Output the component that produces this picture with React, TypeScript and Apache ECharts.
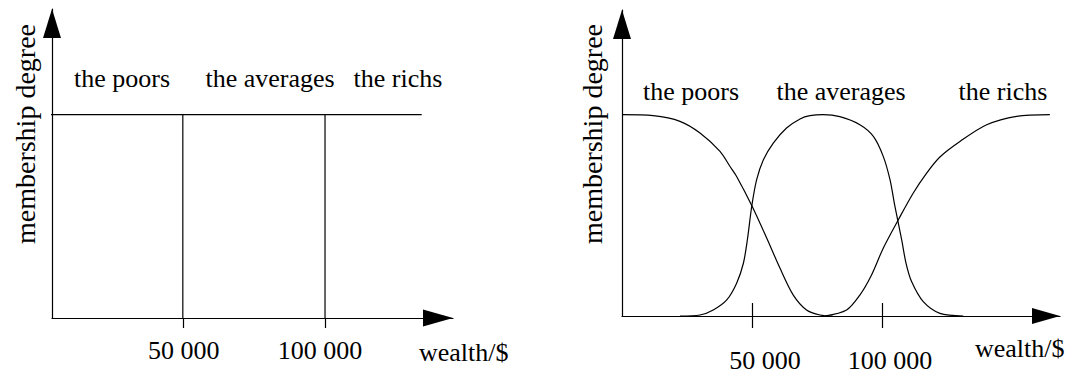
import React, { useEffect, useRef } from "react";
import * as echarts from "echarts";

// ---- texts ----
const setNames = ["the poors", "the averages", "the richs"];
const tickValues = [50000, 100000];
const tickLabels = ["50 000", "100 000"];
const xAxisName = "wealth/$";
const yAxisName = "membership degree";

// ---- crisp sets (left panel): boundaries in $ ----
const crispBounds = [0, 50000, 100000, 134000];

// ---- fuzzy sets (right panel) ----
const poorsX = [0, 12000, 22300, 30000, 37700, 41500, 44100, 50100, 55700, 60800, 65900, 71000, 76200, 81000];
const poorsY = [1, 0.995, 0.967, 0.909, 0.818, 0.744, 0.693, 0.544, 0.386, 0.237, 0.104, 0.03, 0.005, 0];

const averagesX = [22300, 30000, 35100, 40300, 44100, 46700, 48300, 49900, 51800, 54400, 58200, 63300, 68500, 72300, 77400, 83800, 91500, 96700, 100500, 103100, 105000, 107600, 109300, 111400, 115900, 122300, 131300];
const averagesY = [0, 0.005, 0.03, 0.08, 0.163, 0.262, 0.385, 0.544, 0.677, 0.776, 0.859, 0.934, 0.979, 0.995, 1, 0.99, 0.95, 0.892, 0.793, 0.677, 0.544, 0.378, 0.26, 0.171, 0.071, 0.013, 0];

const richsX = [78000, 86400, 91500, 96000, 100500, 106300, 112000, 117200, 122300, 130000, 140300, 151800, 164600];
const richsY = [0, 0.03, 0.104, 0.204, 0.337, 0.478, 0.61, 0.71, 0.79, 0.867, 0.95, 0.992, 1];

const FONT = "Liberation Serif";
const BLACK = "#000";

const zip = (xs: number[], ys: number[]) => xs.map((x, i) => [x, ys[i]]);

export default function App() {
  const ref = useRef<HTMLDivElement>(null);

  useEffect(() => {
    if (!ref.current) return;
    const chart = echarts.init(ref.current, undefined, { renderer: "svg" });

    const lineStyle = { color: BLACK, width: 1.2 };
    const textBase = { fontFamily: FONT, fontSize: 26, color: BLACK };

    const poorsCrisp = [[crispBounds[0], 1], [crispBounds[1], 1], [crispBounds[1], 0]];
    const averagesCrisp = [[crispBounds[1], 1], [crispBounds[2], 1], [crispBounds[2], 0]];
    const richsCrisp = [[crispBounds[2], 1], [crispBounds[3], 1]];

    const yAxisCommon = (gridIndex: number) => ({
      gridIndex,
      type: "value",
      min: 0,
      max: 1.52,
      axisLine: {
        show: true,
        onZero: false,
        symbol: ["none", "triangle"],
        symbolSize: [18, 29],
        symbolOffset: [0, -14.5],
        lineStyle,
      },
      axisTick: { show: false },
      axisLabel: { show: false },
      splitLine: { show: false },
    });

    const tickAxis = (gridIndex: number, min: number, max: number, length: number, inside: boolean) => ({
      gridIndex,
      type: "value",
      position: "bottom",
      min,
      max,
      axisLine: { show: false, onZero: false },
      axisTick: { show: true, customValues: tickValues, length, inside, lineStyle },
      axisLabel: { show: false },
      splitLine: { show: false },
    });

    const labelAxis = (
      gridIndex: number,
      min: number,
      max: number,
      margin: number,
      arrow: [number, number],
      padA: number[],
      padB: number[]
    ) => ({
      gridIndex,
      type: "value",
      position: "bottom",
      min,
      max,
      axisLine: {
        show: true,
        onZero: false,
        symbol: ["none", "triangle"],
        symbolSize: arrow,
        symbolOffset: [0, -arrow[1] / 2],
        lineStyle,
      },
      axisTick: { show: false },
      axisLabel: {
        show: true,
        customValues: tickValues,
        margin,
        ...textBase,
        formatter: (v: number) => {
          const i = tickValues.indexOf(v);
          return i === 0 ? `{a|${tickLabels[0]}}` : `{b|${tickLabels[1]}}`;
        },
        rich: {
          a: { ...textBase, padding: padA },
          b: { ...textBase, padding: padB },
        },
      },
      splitLine: { show: false },
    });

    const nameText = (text: string, x: number, y: number, extra: any = {}) => ({
      type: "text",
      x,
      y,
      ...extra,
      style: { text, fontFamily: FONT, fontSize: 26, fill: BLACK, align: "center", verticalAlign: "middle", ...(extra.style || {}) },
    });

    const option: any = {
      animation: false,
      backgroundColor: "#fff",
      grid: [
        { left: 52, top: 9, width: 401, height: 309 },
        { left: 622, top: 10, width: 438, height: 306 },
      ],
      xAxis: [
        labelAxis(0, 4000, 145000, 19, [17, 30], [0, 0, 0, 2], [0, 10, 0, 0]),
        tickAxis(0, 4000, 145000, 10, false),
        labelAxis(1, 0, 168500, 31, [16, 28], [0, 0, 0, 26], [0, 0, 0, 16]),
        tickAxis(1, 0, 168500, 12, false),
        tickAxis(1, 0, 168500, 13, true),
      ],
      yAxis: [yAxisCommon(0), yAxisCommon(1)],
      series: [
        { type: "line", xAxisIndex: 0, yAxisIndex: 0, data: poorsCrisp, symbol: "none", lineStyle },
        { type: "line", xAxisIndex: 0, yAxisIndex: 0, data: averagesCrisp, symbol: "none", lineStyle },
        { type: "line", xAxisIndex: 0, yAxisIndex: 0, data: richsCrisp, symbol: "none", lineStyle },
        { type: "line", xAxisIndex: 2, yAxisIndex: 1, data: zip(poorsX, poorsY), symbol: "none", smooth: 0.3, lineStyle, clip: false },
        { type: "line", xAxisIndex: 2, yAxisIndex: 1, data: zip(averagesX, averagesY), symbol: "none", smooth: 0.3, lineStyle, clip: false },
        { type: "line", xAxisIndex: 2, yAxisIndex: 1, data: zip(richsX, richsY), symbol: "none", smooth: 0.3, lineStyle, clip: false },
      ],
      graphic: [
        nameText(setNames[0], 122, 78),
        nameText(setNames[1], 270, 78),
        nameText(setNames[2], 398, 78),
        nameText(setNames[0], 691, 91),
        nameText(setNames[1], 841, 91),
        nameText(setNames[2], 1003, 91),
        nameText(yAxisName, 25, 134, { rotation: Math.PI / 2, style: { fontSize: 28 } }),
        nameText(yAxisName, 592, 134, { rotation: Math.PI / 2, style: { fontSize: 28 } }),
        nameText(xAxisName, 419, 352, { style: { align: "left" } }),
        nameText(xAxisName, 975, 348, { style: { align: "left" } }),
      ],
    };

    chart.setOption(option);
    return () => chart.dispose();
  }, []);

  return (
    <div
      ref={ref}
      style={{ position: "absolute", left: 0, top: 0, width: 1073, height: 375, background: "#fff" }}
    />
  );
}
